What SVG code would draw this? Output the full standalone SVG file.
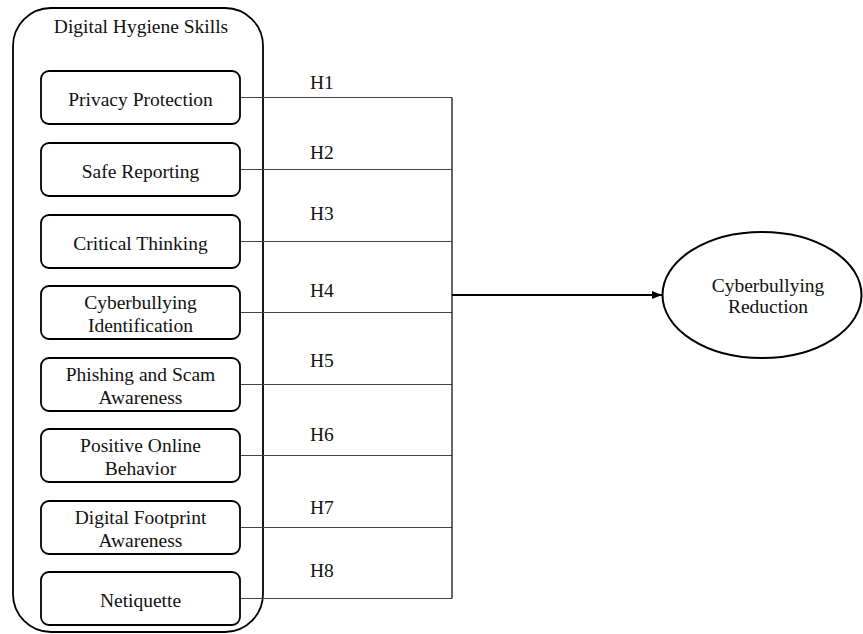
<svg xmlns="http://www.w3.org/2000/svg" width="863" height="634" viewBox="0 0 863 634">
<style>
text{font-family:"Liberation Serif","Times New Roman",serif;font-size:19.5px;fill:#111;text-anchor:middle}
.box{fill:#fff;stroke:#000;stroke-width:1.8}
.ln{stroke:#444;stroke-width:1.2;fill:none}
.h{text-anchor:start}
</style>
<defs>
<marker id="arr" markerWidth="10" markerHeight="8" refX="10" refY="4" orient="auto" markerUnits="userSpaceOnUse">
<path d="M0,0 L10,4 L0,8 Z" fill="#000"/>
</marker>
</defs>
<rect width="863" height="634" fill="#fff"/>
<g id="group-digital-hygiene">
<rect x="13" y="8" width="250" height="624" rx="38" ry="38" fill="none" stroke="#000" stroke-width="1.8"/>
<text x="141" y="33">Digital Hygiene Skills</text>
</g>
<g id="connectors">
<path class="ln" d="M240,97.5H452M240,169.5H452M240,241.5H452M240,312.5H452M240,384.5H452M240,455.5H452M240,527.5H452M240,598.5H452"/>
<path d="M452,97.5V598.5" stroke="#000" stroke-width="1.2" fill="none"/>
<path d="M452,295H662" stroke="#000" stroke-width="2" fill="none" marker-end="url(#arr)"/>
<text class="h" x="310" y="89">H1</text>
<text class="h" x="310" y="159">H2</text>
<text class="h" x="310" y="220">H3</text>
<text class="h" x="310" y="297">H4</text>
<text class="h" x="310" y="367">H5</text>
<text class="h" x="310" y="441">H6</text>
<text class="h" x="310" y="514">H7</text>
<text class="h" x="310" y="577">H8</text>
</g>
<g id="n1"><rect class="box" x="41" y="71" width="199" height="53" rx="8"/><text x="140.5" y="106">Privacy Protection</text></g>
<g id="n2"><rect class="box" x="41" y="143" width="199" height="53" rx="8"/><text x="140.5" y="177.5">Safe Reporting</text></g>
<g id="n3"><rect class="box" x="41" y="215" width="199" height="53" rx="8"/><text x="140.5" y="249.5">Critical Thinking</text></g>
<g id="n4"><rect class="box" x="41" y="286" width="199" height="53" rx="8"/><text x="140.5" y="308.5">Cyberbullying</text><text x="140.5" y="331.5">Identification</text></g>
<g id="n5"><rect class="box" x="41" y="358" width="199" height="53" rx="8"/><text x="140.5" y="380.5">Phishing and Scam</text><text x="140.5" y="403.5">Awareness</text></g>
<g id="n6"><rect class="box" x="41" y="429" width="199" height="53" rx="8"/><text x="140.5" y="451.5">Positive Online</text><text x="140.5" y="474.5">Behavior</text></g>
<g id="n7"><rect class="box" x="41" y="501" width="199" height="53" rx="8"/><text x="140.5" y="523.5">Digital Footprint</text><text x="140.5" y="546.5">Awareness</text></g>
<g id="n8"><rect class="box" x="41" y="572" width="199" height="53" rx="8"/><text x="140.5" y="606.5">Netiquette</text></g>
<g id="outcome">
<ellipse cx="762" cy="295" rx="99.5" ry="63" fill="#fff" stroke="#000" stroke-width="2"/>
<text x="768" y="292">Cyberbullying</text>
<text x="768" y="313">Reduction</text>
</g>
</svg>
